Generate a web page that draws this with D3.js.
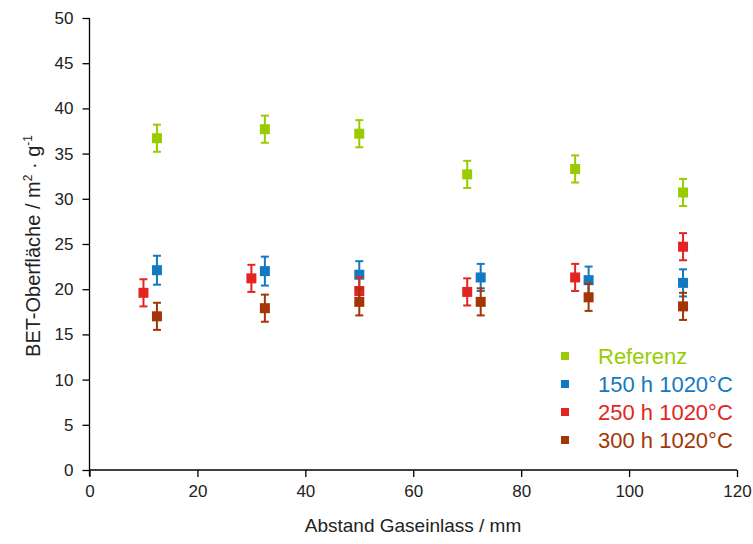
<!DOCTYPE html>
<html>
<head>
<meta charset="utf-8">
<script src="https://cdn.jsdelivr.net/npm/d3@7"></script>
<style>
  body { margin: 0; background: #fff; }
  svg text { font-family: "Liberation Sans", Arial, sans-serif; }
</style>
</head>
<body>
<div id="chart"></div>
<script>
const width = 753;
const height = 544;

// series data: x position (mm), BET surface (m²/g), error
const seriesNames = ['Referenz', '150 h 1020°C', '250 h 1020°C', '300 h 1020°C'];
const seriesColors = ['#99cc00', '#1379c1', '#e22521', '#a23606'];

const xRef = [12.5, 32.5, 50, 70, 90, 110];
const yRef = [36.7, 37.7, 37.2, 32.7, 33.3, 30.7];
const eRef = [1.5, 1.5, 1.5, 1.5, 1.5, 1.5];

const x150 = [12.5, 32.5, 50, 72.5, 92.5, 110];
const y150 = [22.1, 22.0, 21.6, 21.3, 21.0, 20.7];
const e150 = [1.6, 1.6, 1.5, 1.5, 1.5, 1.5];

const x250 = [10, 30, 50, 70, 90, 110];
const y250 = [19.6, 21.2, 19.8, 19.7, 21.3, 24.7];
const e250 = [1.5, 1.5, 1.5, 1.5, 1.5, 1.5];

const x300 = [12.5, 32.5, 50, 72.5, 92.5, 110];
const y300 = [17.0, 17.9, 18.6, 18.6, 19.1, 18.1];
const e300 = [1.5, 1.5, 1.5, 1.5, 1.5, 1.5];

const xTicks = [0, 20, 40, 60, 80, 100, 120];
const yTicks = [0, 5, 10, 15, 20, 25, 30, 35, 40, 45, 50];

const seriesX = [xRef, x150, x250, x300];
const seriesY = [yRef, y150, y250, y300];
const seriesE = [eRef, e150, e250, e300];

const x = d3.scaleLinear().domain([0, 120]).range([89.5, 737]);
const y = d3.scaleLinear().domain([0, 50]).range([470, 18]);

const svg = d3.select('#chart')
    .append('svg')
        .attr('width', width)
        .attr('height', height);

// x axis
const xAxis = svg.append('g')
    .attr('transform', `translate(0,${y(0)})`);
xAxis.call(d3.axisBottom(x).tickValues(d3.range(0, 121, 10)).tickSize(4).tickFormat(''));
xAxis.call(d3.axisBottom(x).tickValues(xTicks).tickSize(7).tickPadding(8).tickFormat(d3.format('d')));
xAxis.selectAll('.domain').remove();
xAxis.append('line')
    .attr('x1', x(0)).attr('x2', x(120))
    .attr('stroke', '#000').attr('stroke-width', 1.3);
xAxis.selectAll('line').attr('stroke', '#000').attr('stroke-width', 1.3);
xAxis.selectAll('text').attr('font-size', 17).attr('fill', '#222');

// y axis
const yAxis = svg.append('g')
    .attr('transform', `translate(${x(0)},0)`);
yAxis.call(d3.axisLeft(y).tickValues(d3.range(0, 50.1, 2.5)).tickSize(4).tickFormat(''));
yAxis.call(d3.axisLeft(y).tickValues(yTicks).tickSize(7).tickPadding(9).tickFormat(d3.format('d')));
yAxis.selectAll('.domain').remove();
yAxis.append('line')
    .attr('y1', y(50)).attr('y2', y(0) + 6)
    .attr('stroke', '#000').attr('stroke-width', 1.3);
yAxis.selectAll('line').attr('stroke', '#000').attr('stroke-width', 1.3);
yAxis.selectAll('text').attr('font-size', 17).attr('fill', '#222');

// axis titles
svg.append('text')
    .attr('x', 413)
    .attr('y', 532)
    .attr('text-anchor', 'middle')
    .attr('font-size', 19)
    .attr('fill', '#222')
    .text('Abstand Gaseinlass / mm');

const yt = svg.append('text')
    .attr('transform', 'translate(40,246) rotate(-90)')
    .attr('text-anchor', 'middle')
    .attr('font-size', 20)
    .attr('fill', '#222');
yt.append('tspan').text('BET-Oberfläche / m');
yt.append('tspan').attr('dy', -8).attr('font-size', 12).text('2');
yt.append('tspan').attr('dy', 8).text(' · g');
yt.append('tspan').attr('dy', -8).attr('font-size', 12).text('-1');

// data
const cap = 4;
const sq = 10;
seriesNames.forEach((name, i) => {
    const pts = seriesX[i].map((xv, j) => ({x: xv, y: seriesY[i][j], e: seriesE[i][j]}));
    const g = svg.append('g').attr('stroke', seriesColors[i]).attr('fill', seriesColors[i]);

    const eb = g.selectAll('g.err')
        .data(pts)
        .enter()
        .append('g')
        .attr('class', 'err')
        .attr('stroke-width', 2);
    eb.append('line')
        .attr('x1', d => x(d.x)).attr('x2', d => x(d.x))
        .attr('y1', d => y(d.y + d.e)).attr('y2', d => y(d.y - d.e));
    eb.append('line')
        .attr('x1', d => x(d.x) - cap).attr('x2', d => x(d.x) + cap)
        .attr('y1', d => y(d.y + d.e)).attr('y2', d => y(d.y + d.e));
    eb.append('line')
        .attr('x1', d => x(d.x) - cap).attr('x2', d => x(d.x) + cap)
        .attr('y1', d => y(d.y - d.e)).attr('y2', d => y(d.y - d.e));

    g.selectAll('rect')
        .data(pts)
        .enter()
        .append('rect')
        .attr('stroke', 'none')
        .attr('x', d => x(d.x) - sq / 2)
        .attr('y', d => y(d.y) - sq / 2)
        .attr('width', sq)
        .attr('height', sq);
});

// legend
const legend = svg.append('g');
seriesNames.forEach((name, i) => {
    const ly = 356 + i * 28;
    legend.append('rect')
        .attr('x', 561).attr('y', ly - 4)
        .attr('width', 8).attr('height', 8)
        .attr('fill', seriesColors[i]);
    legend.append('text')
        .attr('x', 598).attr('y', ly + 8)
        .attr('font-size', 22)
        .attr('fill', seriesColors[i])
        .text(name);
});
</script>
</body>
</html>
